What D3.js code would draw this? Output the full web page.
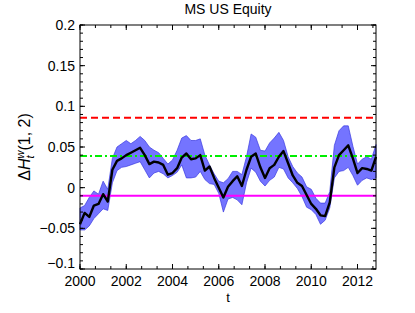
<!DOCTYPE html>
<html>
<head>
<meta charset="utf-8">
<script src="https://cdnjs.cloudflare.com/ajax/libs/d3/7.8.5/d3.min.js"></script>
<style>
  body { margin: 0; background: #fff; }
  text { font-family: "Liberation Sans", Arial, sans-serif; }
</style>
</head>
<body>
<div id="chart"></div>
<script>
// time stamps (fractional years)
const times = [2000.0, 2000.2, 2000.4, 2000.6, 2000.8, 2001.0, 2001.2, 2001.4, 2001.6, 2001.8,
  2002.0, 2002.2, 2002.4, 2002.6, 2002.8, 2003.0, 2003.2, 2003.4, 2003.6, 2003.8,
  2004.0, 2004.2, 2004.4, 2004.6, 2004.8, 2005.0, 2005.2, 2005.4, 2005.6, 2005.8,
  2006.0, 2006.2, 2006.4, 2006.6, 2006.8, 2007.0, 2007.2, 2007.4, 2007.6, 2007.8,
  2008.0, 2008.2, 2008.4, 2008.6, 2008.8, 2009.0, 2009.2, 2009.4, 2009.6, 2009.8,
  2010.0, 2010.2, 2010.4, 2010.6, 2010.8, 2011.0, 2011.2, 2011.4, 2011.6, 2011.8,
  2012.0, 2012.2, 2012.4, 2012.6, 2012.8];

// estimate of delta H
const estimate = [-0.045, -0.031, -0.036, -0.022, -0.020, -0.008, -0.017, 0.022, 0.033, 0.036,
  0.040, 0.043, 0.046, 0.049, 0.040, 0.029, 0.032, 0.031, 0.028, 0.016,
  0.018, 0.024, 0.037, 0.042, 0.035, 0.036, 0.040, 0.021, 0.026, 0.012,
  0.000, -0.012, 0.001, 0.008, 0.014, 0.002, 0.022, 0.038, 0.042, 0.025,
  0.012, 0.024, 0.028, 0.038, 0.045, 0.030, 0.015, 0.006, 0.002, -0.009,
  -0.020, -0.026, -0.034, -0.035, -0.018, 0.025, 0.040, 0.046, 0.052, 0.036,
  0.018, 0.024, 0.023, 0.021, 0.038];

// confidence band
const upper = [-0.025, -0.022, -0.012, -0.004, -0.008, 0.008, -0.002, 0.036, 0.050, 0.054,
  0.058, 0.054, 0.058, 0.063, 0.058, 0.050, 0.046, 0.043, 0.036, 0.029,
  0.034, 0.046, 0.061, 0.064, 0.058, 0.058, 0.060, 0.040, 0.028, 0.017,
  0.008, 0.006, 0.011, 0.020, 0.020, 0.016, 0.038, 0.066, 0.062, 0.046,
  0.045, 0.055, 0.061, 0.068, 0.058, 0.038, 0.026, 0.018, 0.013, 0.001,
  -0.002, -0.013, -0.019, -0.019, -0.005, 0.052, 0.070, 0.076, 0.076, 0.051,
  0.029, 0.035, 0.038, 0.035, 0.053];
const lower = [-0.052, -0.052, -0.047, -0.038, -0.032, -0.026, -0.028, 0.006, 0.021, 0.025,
  0.026, 0.028, 0.030, 0.032, 0.022, 0.012, 0.018, 0.020, 0.017, 0.012,
  0.015, 0.019, 0.028, 0.012, 0.012, 0.013, 0.020, 0.010, 0.005, 0.004,
  -0.007, -0.030, -0.014, -0.012, -0.015, -0.021, 0.006, 0.024, 0.019, 0.008,
  0.002, 0.009, 0.013, 0.025, 0.023, 0.012, 0.006, -0.001, -0.011, -0.024,
  -0.027, -0.033, -0.045, -0.040, -0.025, 0.012, 0.020, 0.021, 0.025, 0.015,
  0.003, 0.009, 0.012, 0.010, 0.012];

// horizontal reference levels
const levels = [0.086, 0.039, -0.01];
const levelColors = ["#ff0000", "#00ee00", "#ff00ff"];
const levelDash = ["7,4", "7,3,2,3", null];

const xTicks = [2000, 2002, 2004, 2006, 2008, 2010, 2012];
const yTicks = [-0.1, -0.05, 0, 0.05, 0.1, 0.15, 0.2];

const W = 415, H = 313;
const mLeft = 80, mRight = 376, mTop = 25, mBottom = 269;

let svg = d3.select("#chart").append("svg")
  .attr("width", W)
  .attr("height", H);

let x = d3.scaleLinear().domain([2000, 2012.8]).range([mLeft, mRight]);
let y = d3.scaleLinear().domain([-0.1, 0.2]).range([mBottom, mTop]);

let idx = d3.range(times.length);

// shaded band
svg.append("path")
  .datum(idx)
  .attr("d", d3.area()
    .x(i => x(times[i]))
    .y0(i => y(lower[i]))
    .y1(i => y(upper[i])))
  .attr("fill", "#7474ff")
  .attr("stroke", "#3a3ae0")
  .attr("stroke-width", 0.7);

// reference levels
svg.selectAll(".level")
  .data(levels).enter()
  .append("line")
  .attr("class", "level")
  .attr("x1", mLeft).attr("x2", mRight)
  .attr("y1", d => y(d)).attr("y2", d => y(d))
  .attr("stroke", (d, i) => levelColors[i])
  .attr("stroke-width", 2)
  .attr("stroke-dasharray", (d, i) => levelDash[i]);

// estimate line
svg.append("path")
  .datum(idx)
  .attr("d", d3.line().x(i => x(times[i])).y(i => y(estimate[i])))
  .attr("fill", "none")
  .attr("stroke", "#000")
  .attr("stroke-width", 2.4)
  .attr("stroke-linejoin", "round");

// axes box with inward ticks
let xMinor = d3.range(0, 20).map(k => 2000 + k * 2 / 3).filter(v => v <= 2012.8);
let yMinor = d3.range(-10, 21).map(k => k / 100);

let gAx = svg.append("g").attr("stroke", "#000").attr("stroke-width", 1);

gAx.append("rect")
  .attr("x", mLeft).attr("y", mTop)
  .attr("width", mRight - mLeft).attr("height", mBottom - mTop)
  .attr("fill", "none");

function tickLines(vals, len, horiz) {
  vals.forEach(v => {
    if (horiz) {
      let px = x(v);
      gAx.append("line").attr("x1", px).attr("x2", px).attr("y1", mBottom).attr("y2", mBottom - len);
      gAx.append("line").attr("x1", px).attr("x2", px).attr("y1", mTop).attr("y2", mTop + len);
    } else {
      let py = y(v);
      gAx.append("line").attr("y1", py).attr("y2", py).attr("x1", mLeft).attr("x2", mLeft + len);
      gAx.append("line").attr("y1", py).attr("y2", py).attr("x1", mRight).attr("x2", mRight - len);
    }
  });
}
tickLines(xMinor, 3, true);
tickLines(xTicks, 5, true);
tickLines(yMinor, 3, false);
tickLines(yTicks, 5, false);

// tick labels
let fmtY = d => (d < 0 ? "\u2212" : "") + String(Math.abs(d));
svg.selectAll(".ylab")
  .data(yTicks).enter()
  .append("text")
  .attr("x", mLeft - 5)
  .attr("y", d => y(d))
  .attr("dy", d => d === -0.1 ? "-0.05em" : "0.35em")
  .attr("text-anchor", "end")
  .attr("font-size", 14)
  .text(fmtY);

svg.selectAll(".xlab")
  .data(xTicks).enter()
  .append("text")
  .attr("x", d => x(d))
  .attr("y", mBottom + 16.5)
  .attr("text-anchor", "middle")
  .attr("font-size", 14)
  .text(d => d);

// title
svg.append("text")
  .attr("x", (mLeft + mRight) / 2)
  .attr("y", 14)
  .attr("text-anchor", "middle")
  .attr("font-size", 14)
  .text("MS US Equity");

// x label
svg.append("text")
  .attr("x", (mLeft + mRight) / 2)
  .attr("y", 302)
  .attr("text-anchor", "middle")
  .attr("font-family", "'Liberation Serif', 'DejaVu Serif', serif")
  .attr("font-size", 13)
  .text("t");

// y label  ΔH_t^w(1, 2)
let yl = svg.append("text")
  .attr("transform", `translate(30, ${(mTop + mBottom) / 2}) rotate(-90)`)
  .attr("text-anchor", "middle")
  .attr("font-family", "'Liberation Serif', 'DejaVu Serif', serif")
  .attr("font-size", 16);
yl.append("tspan").text("\u0394");
yl.append("tspan").attr("font-style", "italic").text("H");
yl.append("tspan").attr("font-style", "italic").attr("font-size", 11).attr("dy", -6).text("w");
yl.append("tspan").attr("font-style", "italic").attr("font-size", 11).attr("dx", -8).attr("dy", 10).text("t");
yl.append("tspan").attr("dy", -4).attr("dx", 5).text("(1, 2)");
</script>
</body>
</html>
